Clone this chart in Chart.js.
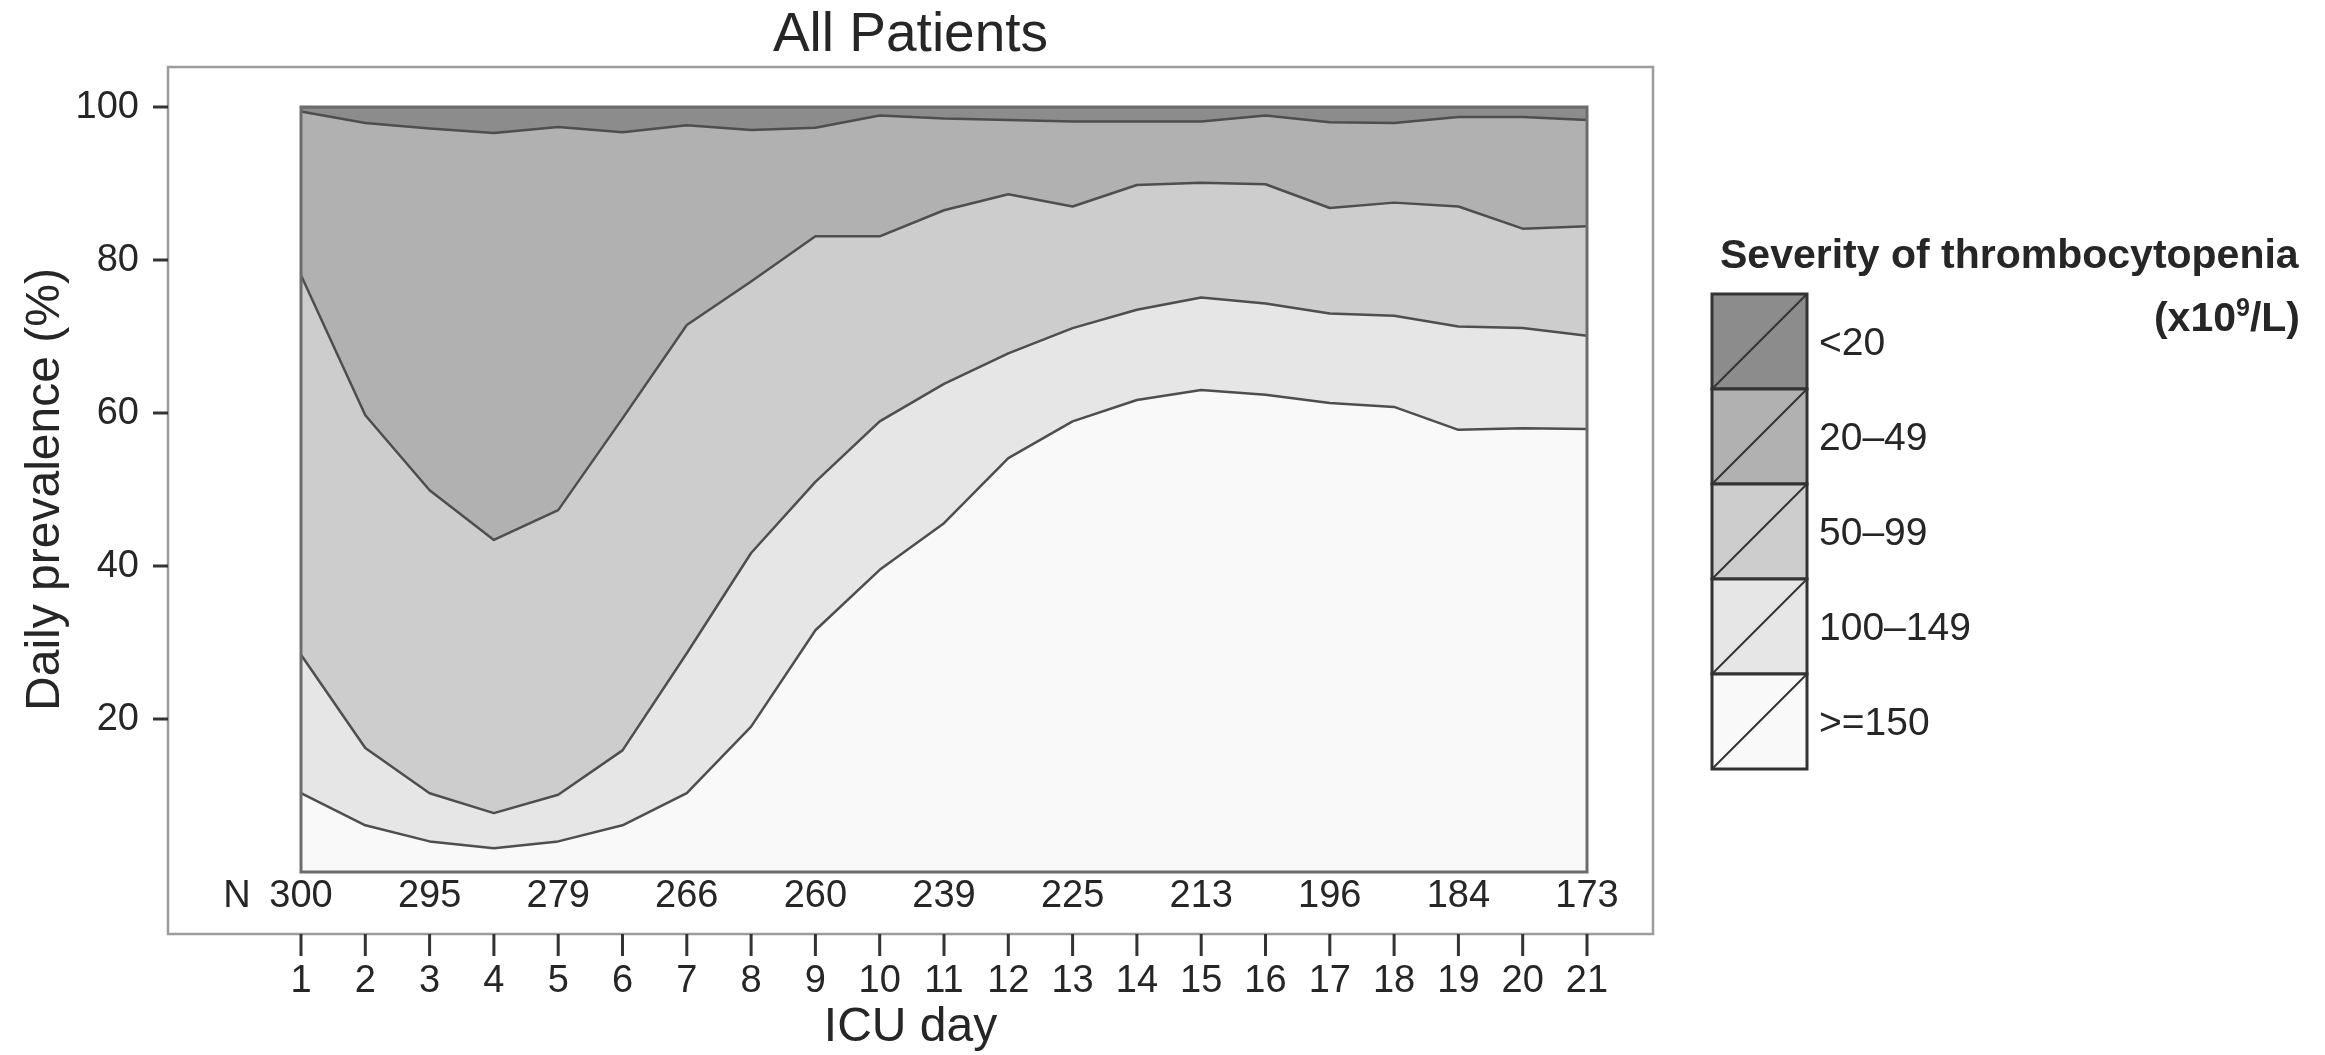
<!DOCTYPE html>
<html><head><meta charset="utf-8">
<script src="https://cdn.jsdelivr.net/npm/chart.js@4.4.1/dist/chart.umd.min.js"></script>
<style>html,body{margin:0;padding:0;background:#fff;overflow:hidden}canvas{display:block}</style>
</head><body>
<canvas id="c" width="2325" height="1055" style="width:2325px;height:1055px"></canvas>
<script>
// ---- data ----
const days = ['1','2','3','4','5','6','7','8','9','10','11','12','13','14','15','16','17','18','19','20','21'];
const yTickValues = [20, 40, 60, 80, 100];
const nDays = ['1','3','5','7','9','11','13','15','17','19','21'];
const nValues = [300, 295, 279, 266, 260, 239, 225, 213, 196, 184, 173];
const categories = ['>=150', '100–149', '50–99', '20–49', '<20'];
const prevGE150   = [10.3, 6.1, 4.0, 3.1, 4.0, 6.1, 10.3, 19.0, 31.6, 39.5, 45.6, 54.1, 58.9, 61.7, 63.0, 62.4, 61.3, 60.8, 57.8, 58.0, 57.9];
const prev100_149 = [18.1, 10.1, 6.3, 4.6, 6.1, 9.8, 18.3, 22.7, 19.4, 19.4, 18.2, 13.7, 12.2, 11.8, 12.1, 11.9, 11.7, 11.9, 13.5, 13.1, 12.2];
const prev50_99   = [49.6, 43.5, 39.6, 35.7, 37.2, 43.4, 42.9, 35.5, 32.1, 24.2, 22.7, 20.8, 15.9, 16.3, 15.0, 15.6, 13.8, 14.8, 15.7, 13.0, 14.3];
const prev20_49   = [21.4, 38.2, 47.3, 53.2, 50.1, 37.4, 26.1, 19.8, 14.2, 15.8, 12.0, 9.7, 11.1, 8.3, 8.0, 9.0, 11.2, 10.4, 11.7, 14.6, 13.9];
const prevLT20    = [0.6, 2.1, 2.8, 3.4, 2.6, 3.3, 2.4, 3.0, 2.7, 1.1, 1.5, 1.7, 1.9, 1.9, 1.9, 1.1, 2.0, 2.1, 1.3, 1.3, 1.7];
const seriesValues = [prevGE150, prev100_149, prev50_99, prev20_49, prevLT20];

// ---- styles ----
const fills = ['#f9f9f9', '#e6e6e6', '#cdcdcd', '#b1b1b1', '#8c8c8c'];
const LINE = '#4e4e4e';
const TXT = '#262626';
const FONT = '"Liberation Sans", Arial, Helvetica, sans-serif';

const datasets = seriesValues.map((vals, i) => ({
  label: categories[i],
  data: vals,
  backgroundColor: fills[i],
  borderColor: LINE,
  borderWidth: 2.5,
  pointRadius: 0,
  tension: 0,
  fill: i === 0 ? 'origin' : '-1'
}));

const deco = {
  id: 'deco',
  beforeDraw(chart) {
    const ctx = chart.ctx;
    ctx.save(); ctx.fillStyle = '#fff'; ctx.fillRect(0, 0, chart.width, chart.height); ctx.restore();
  },
  afterDraw(chart) {
    const ctx = chart.ctx, ca = chart.chartArea, xs = chart.scales.x, ys = chart.scales.y;
    const box = { l: ca.left - 133, t: ca.top - 40, r: ca.right + 66, b: ca.bottom + 62 };
    const cx = (box.l + box.r) / 2;
    ctx.save();
    // plot border
    ctx.strokeStyle = '#6c6c6c'; ctx.lineWidth = 3;
    ctx.strokeRect(ca.left, ca.top, ca.right - ca.left, ca.bottom - ca.top);
    // outer panel
    ctx.strokeStyle = '#9c9c9c'; ctx.lineWidth = 2.5;
    ctx.strokeRect(box.l, box.t, box.r - box.l, box.b - box.t);
    // title
    ctx.fillStyle = TXT; ctx.textAlign = 'center'; ctx.textBaseline = 'middle';
    ctx.font = '55px ' + FONT;
    ctx.fillText('All Patients', cx, 36);
    // y ticks
    ctx.strokeStyle = '#333'; ctx.lineWidth = 3;
    ctx.font = '38px ' + FONT; ctx.textAlign = 'right';
    yTickValues.forEach(v => {
      const py = ys.getPixelForValue(v);
      ctx.beginPath(); ctx.moveTo(box.l - 15, py); ctx.lineTo(box.l, py); ctx.stroke();
      ctx.fillText(String(v), box.l - 29, py + 1);
    });
    // y title
    ctx.save();
    ctx.translate(46, (ca.top + ca.bottom) / 2);
    ctx.rotate(-Math.PI / 2);
    ctx.textAlign = 'center'; ctx.font = '48px ' + FONT;
    ctx.fillText('Daily prevalence (%)', 0, 0);
    ctx.restore();
    // x ticks
    ctx.textAlign = 'center'; ctx.font = '38px ' + FONT;
    days.forEach((d, i) => {
      const px = xs.getPixelForValue(i);
      ctx.beginPath(); ctx.moveTo(px, box.b); ctx.lineTo(px, box.b + 22); ctx.stroke();
      ctx.fillText(d, px, 982);
    });
    // N row
    ctx.fillText('N', 237, 897);
    nDays.forEach((d, i) => {
      const px = xs.getPixelForValue(days.indexOf(d));
      ctx.fillText(String(nValues[i]), px, 897);
    });
    // x title
    ctx.font = '48px ' + FONT;
    ctx.fillText('ICU day', cx, 1028);
    // legend
    const lg = { x: 1712, y: 294, w: 95, h: 95 };
    ctx.textAlign = 'left';
    ctx.font = 'bold 41px ' + FONT;
    ctx.fillText('Severity of thrombocytopenia', 1720, 257);
    // unit (x10^9/L) right aligned
    const rightX = 2300, uy = 320;
    ctx.textAlign = 'left';
    const p1 = '(x10', p2 = '9', p3 = '/L)';
    ctx.font = 'bold 41px ' + FONT; const w1 = ctx.measureText(p1).width, w3 = ctx.measureText(p3).width;
    ctx.font = 'bold 25px ' + FONT; const w2 = ctx.measureText(p2).width;
    let sx = rightX - (w1 + w2 + w3);
    ctx.font = 'bold 41px ' + FONT; ctx.fillText(p1, sx, uy); sx += w1;
    ctx.font = 'bold 25px ' + FONT; ctx.fillText(p2, sx, uy - 11); sx += w2;
    ctx.font = 'bold 41px ' + FONT; ctx.fillText(p3, sx, uy);
    ctx.font = '39px ' + FONT;
    for (let k = 0; k < categories.length; k++) {
      const idx = categories.length - 1 - k;
      const by = lg.y + k * lg.h;
      ctx.fillStyle = fills[idx];
      ctx.fillRect(lg.x, by, lg.w, lg.h);
      ctx.strokeStyle = '#333'; ctx.lineWidth = 3;
      ctx.strokeRect(lg.x, by, lg.w, lg.h);
      ctx.lineWidth = 2;
      ctx.beginPath(); ctx.moveTo(lg.x, by + lg.h); ctx.lineTo(lg.x + lg.w, by); ctx.stroke();
      ctx.fillStyle = TXT;
      ctx.fillText(categories[idx], lg.x + lg.w + 12, by + lg.h / 2 + 3);
    }
    ctx.restore();
  }
};

new Chart(document.getElementById('c'), {
  type: 'line',
  data: { labels: days, datasets },
  options: {
    responsive: false,
    animation: false,
    devicePixelRatio: 1,
    layout: { padding: { left: 301, top: 107, right: 2325 - 1587, bottom: 1055 - 872 } },
    plugins: { legend: { display: false }, title: { display: false }, tooltip: { enabled: false } },
    elements: { line: { borderJoinStyle: 'round' } },
    scales: {
      x: { type: 'category', offset: false, display: false },
      y: { min: 0, max: 100, stacked: true, display: false }
    }
  },
  plugins: [deco]
});
</script>
</body></html>
